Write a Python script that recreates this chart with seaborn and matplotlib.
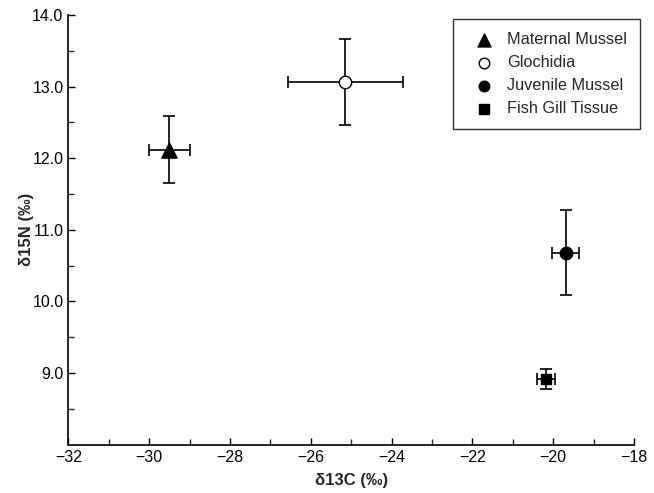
import matplotlib
matplotlib.use("Agg")
import matplotlib.pyplot as plt
import seaborn as sns
import pandas as pd

groups = ["Maternal Mussel", "Glochidia", "Juvenile Mussel", "Fish Gill Tissue"]
d13c = [-29.5, -25.14, -19.69, -20.17]
d13c_err = [0.5, 1.43, 0.34, 0.22]
d15n = [12.12, 13.06, 10.68, 8.92]
d15n_err = [0.47, 0.6, 0.59, 0.14]

x_ticks = [-32, -30, -28, -26, -24, -22, -20, -18]
y_ticks = [9.0, 10.0, 11.0, 12.0, 13.0, 14.0]

sns.set_style("ticks")
plt.rcParams["font.family"] = ["Liberation Sans", "DejaVu Sans"]

df = pd.DataFrame({"group": groups, "x": d13c, "xerr": d13c_err, "y": d15n, "yerr": d15n_err})

fig = plt.figure(figsize=(6.54, 4.93), dpi=100)
ax = fig.add_axes([0.1044, 0.0978, 0.865, 0.872])

ax.errorbar(df["x"], df["y"], xerr=df["xerr"], yerr=df["yerr"], fmt="none",
            ecolor="black", elinewidth=1.2, capsize=4, capthick=1.2, zorder=2)

markers = {"Maternal Mussel": "^", "Glochidia": "o", "Juvenile Mussel": "o", "Fish Gill Tissue": "s"}
sizes = {"Maternal Mussel": 120, "Glochidia": 80, "Juvenile Mussel": 80, "Fish Gill Tissue": 60}
faces = {"Maternal Mussel": "black", "Glochidia": "white", "Juvenile Mussel": "black", "Fish Gill Tissue": "black"}

for g in groups:
    sub = df[df["group"] == g]
    sns.scatterplot(data=sub, x="x", y="y", marker=markers[g], s=sizes[g],
                    color=faces[g], edgecolor="black", linewidth=1.0,
                    label=g, ax=ax, zorder=3)

ax.set_xlim(-32, -18)
ax.set_ylim(8.0, 14.0)
ax.set_xticks(x_ticks)
ax.set_xticklabels([f"\u2212{abs(v)}" for v in x_ticks])
ax.set_yticks(y_ticks)
ax.set_yticklabels([f"{v:.1f}" for v in y_ticks])
ax.set_xticks([v + 1 for v in x_ticks[:-1]], minor=True)
ax.set_yticks([8.5, 9.5, 10.5, 11.5, 12.5, 13.5], minor=True)
ax.tick_params(axis="both", which="major", direction="in", length=5, width=1.0,
               labelsize=11.5, colors="black")
ax.tick_params(axis="both", which="minor", direction="in", length=4, width=1.0)

for s in ["top", "right"]:
    ax.spines[s].set_visible(False)
for s in ["left", "bottom"]:
    ax.spines[s].set_linewidth(1.2)
    ax.spines[s].set_color("black")

ax.set_xlabel("\u03b413C (\u2030)", fontsize=12, fontweight="bold")
ax.set_ylabel("\u03b415N (\u2030)", fontsize=12, fontweight="bold")
ax.xaxis.set_label_coords(0.5, -0.066)
ax.yaxis.set_label_coords(-0.0606, 0.5)

leg = ax.legend(loc="upper right", bbox_to_anchor=(640 / 654, 1 - 19 / 493),
                bbox_transform=fig.transFigure, borderaxespad=0,
                frameon=True, fancybox=False,
                edgecolor="black", fontsize=11.7, handletextpad=0.3, borderpad=0.8,
                labelspacing=0.5, handlelength=2.2, markerscale=0.85)
leg.get_frame().set_linewidth(1.0)

fig.savefig("out.png", dpi=100)
